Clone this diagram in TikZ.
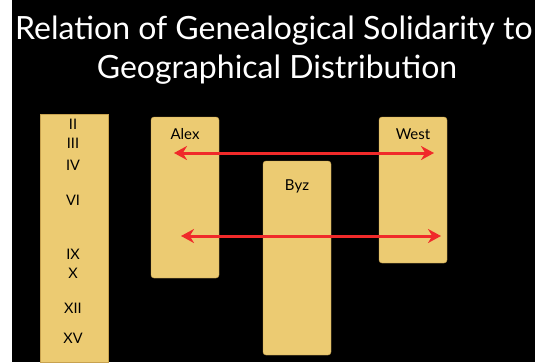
\documentclass[tikz,border=0pt]{standalone}
\usepackage{fontspec}
\setmainfont{Lato}
\usetikzlibrary{positioning,arrows.meta}
\definecolor{tgold}{HTML}{ECCB72}
\definecolor{tedge}{HTML}{C8A24F}
\definecolor{tred}{HTML}{F02A2A}

\begin{document}
\begin{tikzpicture}[x=1pt, y=-1pt,
  box/.style={draw=tedge, fill=tgold, rounded corners=3pt, minimum width=68pt, inner sep=0pt},
  lbl/.style={font=\fontsize{15}{15}\selectfont, text=black},
  num/.style={font=\fontsize{14.5}{14.5}\selectfont, text=black},
  arr/.style={{Stealth[length=13pt,width=14pt]}-{Stealth[length=13pt,width=14pt]}, draw=tred, line width=3pt}]
\useasboundingbox (0,0) rectangle (535,362);
\fill[white] (0,0) rectangle (12,362);
\fill[black] (12,0) rectangle (535,362);
% title
\node[anchor=base west, text=white, font=\fontsize{32}{32}\selectfont, inner sep=0pt] (t1) at (15,39) {Relation of Genealogical Solidarity to};
\node[anchor=base, text=white, font=\fontsize{32}{32}\selectfont, inner sep=0pt] (t2) at (277,78) {Geographical Distribution};
% strip of centuries
\node[box, rounded corners=0pt, minimum height=248pt] (cent) at (74,238) {};
\foreach \n/\y in {II/124, III/143, IV/165, VI/200, IX/254, X/273, XII/308, XV/338}
  \node[num] (c\n) at (73,\y) {\n};
% families
\node[box, minimum height=161pt] (alex) at (185,197.5) {};
\node[box, minimum height=146pt] (west) at (413,190) {};
\node[box, minimum height=194pt] (byz) at (297,258) {};
\node[lbl, below=8pt of alex.north] (alexl) {Alex};
\node[lbl, below=8pt of west.north] (westl) {West};
\node[lbl, below=15pt of byz.north] (byzl) {Byz};
% agreements
\coordinate (a1) at (174,153);
\coordinate (w1) at (434,153);
\coordinate (a2) at (181,236);
\coordinate (w2) at (441,236);
\draw[arr] (a1) -- (w1);
\draw[arr] (a2) -- (w2);
\end{tikzpicture}
\end{document}
